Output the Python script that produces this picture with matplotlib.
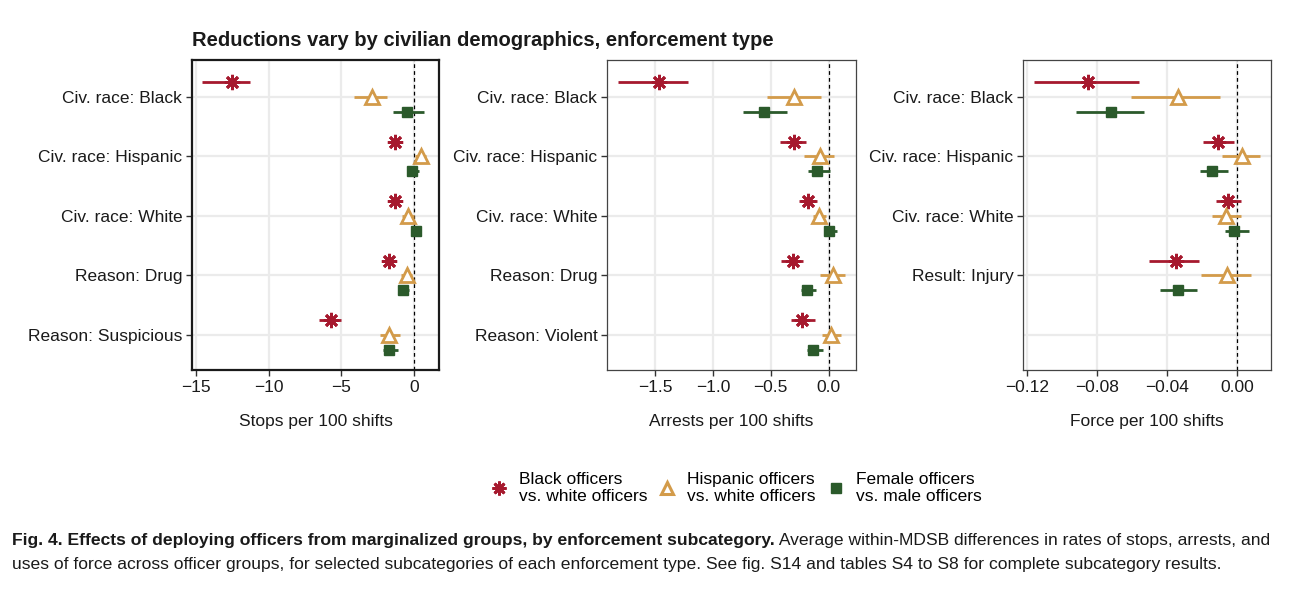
import matplotlib
matplotlib.use("Agg")
import matplotlib.pyplot as plt
from matplotlib.lines import Line2D
from matplotlib import font_manager as fm
import numpy as np

plt.rcParams['font.family'] = ['Liberation Sans', 'DejaVu Sans']

# ---------------- data ----------------
cats_stops = ['Civ. race: Black', 'Civ. race: Hispanic', 'Civ. race: White', 'Reason: Drug', 'Reason: Suspicious']
stops_black = [-12.5, -1.3, -1.3, -1.7, -5.7]
stops_black_lo = [-14.55, -1.6, -1.6, -2.0, -6.5]
stops_black_hi = [-11.3, -1.0, -1.0, -1.4, -5.0]
stops_hisp = [-2.9, 0.45, -0.4, -0.5, -1.7]
stops_hisp_lo = [-4.15, 0.1, -0.83, -0.92, -2.35]
stops_hisp_hi = [-1.85, 0.8, 0.02, -0.12, -0.95]
stops_fem = [-0.45, -0.15, 0.15, -0.75, -1.72]
stops_fem_lo = [-1.42, -0.4, -0.09, -1.0, -2.15]
stops_fem_hi = [0.7, 0.33, 0.46, -0.37, -1.08]

cats_arrests = ['Civ. race: Black', 'Civ. race: Hispanic', 'Civ. race: White', 'Reason: Drug', 'Reason: Violent']
arr_black = [-1.467, -0.295, -0.182, -0.309, -0.228]
arr_black_lo = [-1.82, -0.416, -0.254, -0.41, -0.327]
arr_black_hi = [-1.213, -0.191, -0.10, -0.222, -0.121]
arr_hisp = [-0.295, -0.078, -0.081, 0.035, 0.023]
arr_hisp_lo = [-0.534, -0.21, -0.135, -0.072, -0.055]
arr_hisp_hi = [-0.066, 0.043, -0.023, 0.139, 0.107]
arr_fem = [-0.555, -0.10, 0.006, -0.188, -0.135]
arr_fem_lo = [-0.742, -0.176, -0.023, -0.237, -0.188]
arr_fem_hi = [-0.358, 0.012, 0.075, -0.107, -0.052]

cats_force = ['Civ. race: Black', 'Civ. race: Hispanic', 'Civ. race: White', 'Result: Injury', '']
force_black = [-0.0852, -0.0106, -0.005, -0.0348]
force_black_lo = [-0.1164, -0.0197, -0.012, -0.0505]
force_black_hi = [-0.0563, -0.0014, 0.0021, -0.022]
force_hisp = [-0.0335, 0.0029, -0.0063, -0.0056]
force_hisp_lo = [-0.0607, -0.0083, -0.014, -0.0205]
force_hisp_hi = [-0.0098, 0.0132, 0.0021, 0.0082]
force_fem = [-0.072, -0.0144, -0.0014, -0.0339]
force_fem_lo = [-0.0922, -0.0209, -0.0067, -0.0439]
force_fem_hi = [-0.053, -0.0052, 0.0067, -0.023]

group_labels = ['Black officers\nvs. white officers', 'Hispanic officers\nvs. white officers',
                'Female officers\nvs. male officers']
xlabels = ['Stops per 100 shifts', 'Arrests per 100 shifts', 'Force per 100 shifts']
title = 'Reductions vary by civilian demographics, enforcement type'
cap_bold = 'Fig. 4. Effects of deploying officers from marginalized groups, by enforcement subcategory.'
cap_rest1 = ' Average within-MDSB differences in rates of stops, arrests, and'
cap_line2 = ('uses of force across officer groups, for selected subcategories of each enforcement type. '
             'See fig. S14 and tables S4 to S8 for complete subcategory results.')

# ---------------- style ----------------
RED = '#A6192E'
OCHRE = '#D39B4A'
GREEN = '#2B5A2B'
FS = 12.5

fig = plt.figure(figsize=(13.04, 6.09), dpi=100)
W, H = 1304, 609

def axrect(l, r, t=60, b=370):
    return [l / W, (H - b) / H, (r - l) / W, (b - t) / H]

panels = [
    dict(rect=axrect(192, 439), cats=cats_stops, xlim=(-15.26, 1.72), ticks=[-15, -10, -5, 0],
         ticklabels=['\u221215', '\u221210', '\u22125', '0'],
         series=[(stops_black, stops_black_lo, stops_black_hi),
                 (stops_hisp, stops_hisp_lo, stops_hisp_hi),
                 (stops_fem, stops_fem_lo, stops_fem_hi)], bold_frame=True),
    dict(rect=axrect(607, 856), cats=cats_arrests, xlim=(-1.915, 0.237), ticks=[-1.5, -1.0, -0.5, 0.0],
         ticklabels=['\u22121.5', '\u22121.0', '\u22120.5', '0.0'],
         series=[(arr_black, arr_black_lo, arr_black_hi),
                 (arr_hisp, arr_hisp_lo, arr_hisp_hi),
                 (arr_fem, arr_fem_lo, arr_fem_hi)], bold_frame=False),
    dict(rect=axrect(1023, 1271), cats=cats_force, xlim=(-0.1225, 0.0195), ticks=[-0.12, -0.08, -0.04, 0.0],
         ticklabels=['\u22120.12', '\u22120.08', '\u22120.04', '0.00'],
         series=[(force_black, force_black_lo, force_black_hi),
                 (force_hisp, force_hisp_lo, force_hisp_hi),
                 (force_fem, force_fem_lo, force_fem_hi)], bold_frame=False),
]

colors = [RED, OCHRE, GREEN]
offsets = [-0.25, 0.0, 0.25]
mk = [dict(marker=(8, 2, 0), markersize=11, markeredgewidth=2.0, color=RED),
      dict(marker='^', markersize=10, markerfacecolor='white', markeredgecolor=OCHRE, markeredgewidth=2.0),
      dict(marker='s', markersize=7.5, markerfacecolor=GREEN, markeredgecolor=GREEN)]

for p, xl in zip(panels, xlabels):
    ax = fig.add_axes(p['rect'])
    n = len(p['cats'])
    ypos = np.arange(n)
    for (vals, lo, hi), c, off, m in zip(p['series'], colors, offsets, mk):
        v = np.array(vals); lo = np.array(lo); hi = np.array(hi)
        yy = np.arange(len(v)) + off
        ax.hlines(yy, lo, hi, color=c, lw=2.0, zorder=3)
        ax.plot(v, yy, linestyle='none', zorder=4, **m)
    ax.axvline(0, color='black', lw=0.9, ls=(0, (3, 2.5)), zorder=2)
    ax.set_xlim(*p['xlim'])
    ax.set_ylim(n - 1 + 0.59, -0.62)
    ax.set_yticks(ypos)
    ax.set_yticklabels(p['cats'], fontsize=FS, color='#1a1a1a')
    ax.set_xticks(p['ticks'])
    ax.set_xticklabels(p['ticklabels'], fontsize=FS, color='#1a1a1a')
    ax.grid(True, color='#EBEBEB', lw=1.6, zorder=0)
    ax.set_axisbelow(True)
    ax.tick_params(length=4, width=1.0, color='#333333', pad=3)
    for i, lab in enumerate(p['cats']):
        if lab == '':
            ax.yaxis.get_major_ticks()[i].tick1line.set_visible(False)
    ax.set_xlabel(xl, fontsize=FS, labelpad=14, color='#1a1a1a')
    for s in ax.spines.values():
        if p['bold_frame']:
            s.set_linewidth(1.6); s.set_color('#1a1a1a')
        else:
            s.set_linewidth(0.9); s.set_color('#444444')

fig.text(192 / W, 1 - 40 / H, title, fontsize=14.5, fontweight='bold', ha='left', va='center', color='#1a1a1a')

# legend
handles = [
    Line2D([0], [0], linestyle='none', marker=(8, 2, 0), markersize=10, markeredgewidth=2.0, color=RED),
    Line2D([0], [0], linestyle='none', marker='^', markersize=8, markerfacecolor='white',
           markeredgecolor=OCHRE, markeredgewidth=2.2),
    Line2D([0], [0], linestyle='none', marker='s', markersize=7, color=GREEN),
]
fig.legend(handles, group_labels, loc='center', bbox_to_anchor=(736 / W, 1 - 488 / H), ncol=3,
           frameon=False, fontsize=FS, handlelength=1.0, handletextpad=0.65, columnspacing=0.65,
           labelspacing=0.2)

# caption
avail = {f.name for f in fm.fontManager.ttflist}
cap_font = 'Liberation Sans Narrow' if 'Liberation Sans Narrow' in avail else 'Liberation Sans'
cap_fs = 13.5 if cap_font == 'Liberation Sans Narrow' else 12.6
t1 = fig.text(12 / W, 1 - 541 / H, cap_bold, fontsize=cap_fs, fontweight='bold', family=cap_font,
              ha='left', va='center', color='#1a1a1a')
fig.canvas.draw()
bb = t1.get_window_extent(renderer=fig.canvas.get_renderer())
fig.text(bb.x1 / W, 1 - 541 / H, cap_rest1, fontsize=cap_fs, family=cap_font, ha='left', va='center',
         color='#1a1a1a')
fig.text(12 / W, 1 - 565 / H, cap_line2, fontsize=cap_fs, family=cap_font, ha='left', va='center',
         color='#1a1a1a')

fig.savefig('out.png', dpi=100)
